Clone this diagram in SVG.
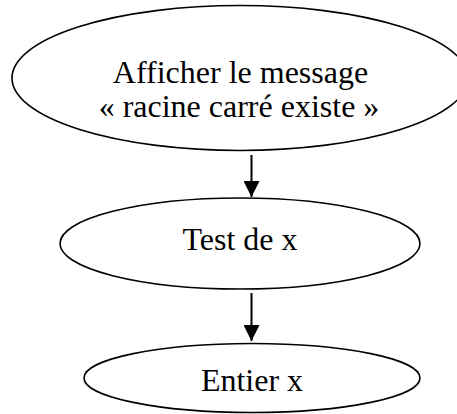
<svg xmlns="http://www.w3.org/2000/svg" width="457" height="414" viewBox="0 0 457 414">
  <style>
    .node ellipse { fill: #ffffff; stroke: #000000; stroke-width: 1.6; }
    .node text { font-family: "Liberation Serif", "Times New Roman", serif; font-size: 32px; fill: #000000; text-anchor: middle; }
    .edge { stroke: #000000; stroke-width: 2; fill: none; }
  </style>
  <defs>
    <marker id="arrow" markerUnits="userSpaceOnUse" markerWidth="16" markerHeight="16" refX="16" refY="8" orient="auto">
      <path d="M0,0 L16,8 L0,16 Z" fill="#000000"/>
    </marker>
  </defs>
  <rect width="457" height="414" fill="#ffffff"/>
  <g id="node-afficher" class="node">
    <ellipse cx="240" cy="78" rx="228" ry="72.5"/>
    <text x="240.5" y="82.5">Afficher le message</text>
    <text x="239" y="117">« racine carré existe »</text>
  </g>
  <g id="node-test" class="node">
    <ellipse cx="240" cy="243.5" rx="180" ry="45.5"/>
    <text x="240" y="250">Test de x</text>
  </g>
  <g id="node-entier" class="node">
    <ellipse cx="252" cy="378" rx="168" ry="34.5"/>
    <text x="252" y="391">Entier x</text>
  </g>
  <g id="connectors">
    <line class="edge" x1="251.5" y1="155" x2="251.5" y2="197" marker-end="url(#arrow)"/>
    <line class="edge" x1="251.5" y1="293" x2="251.5" y2="341" marker-end="url(#arrow)"/>
  </g>
</svg>
